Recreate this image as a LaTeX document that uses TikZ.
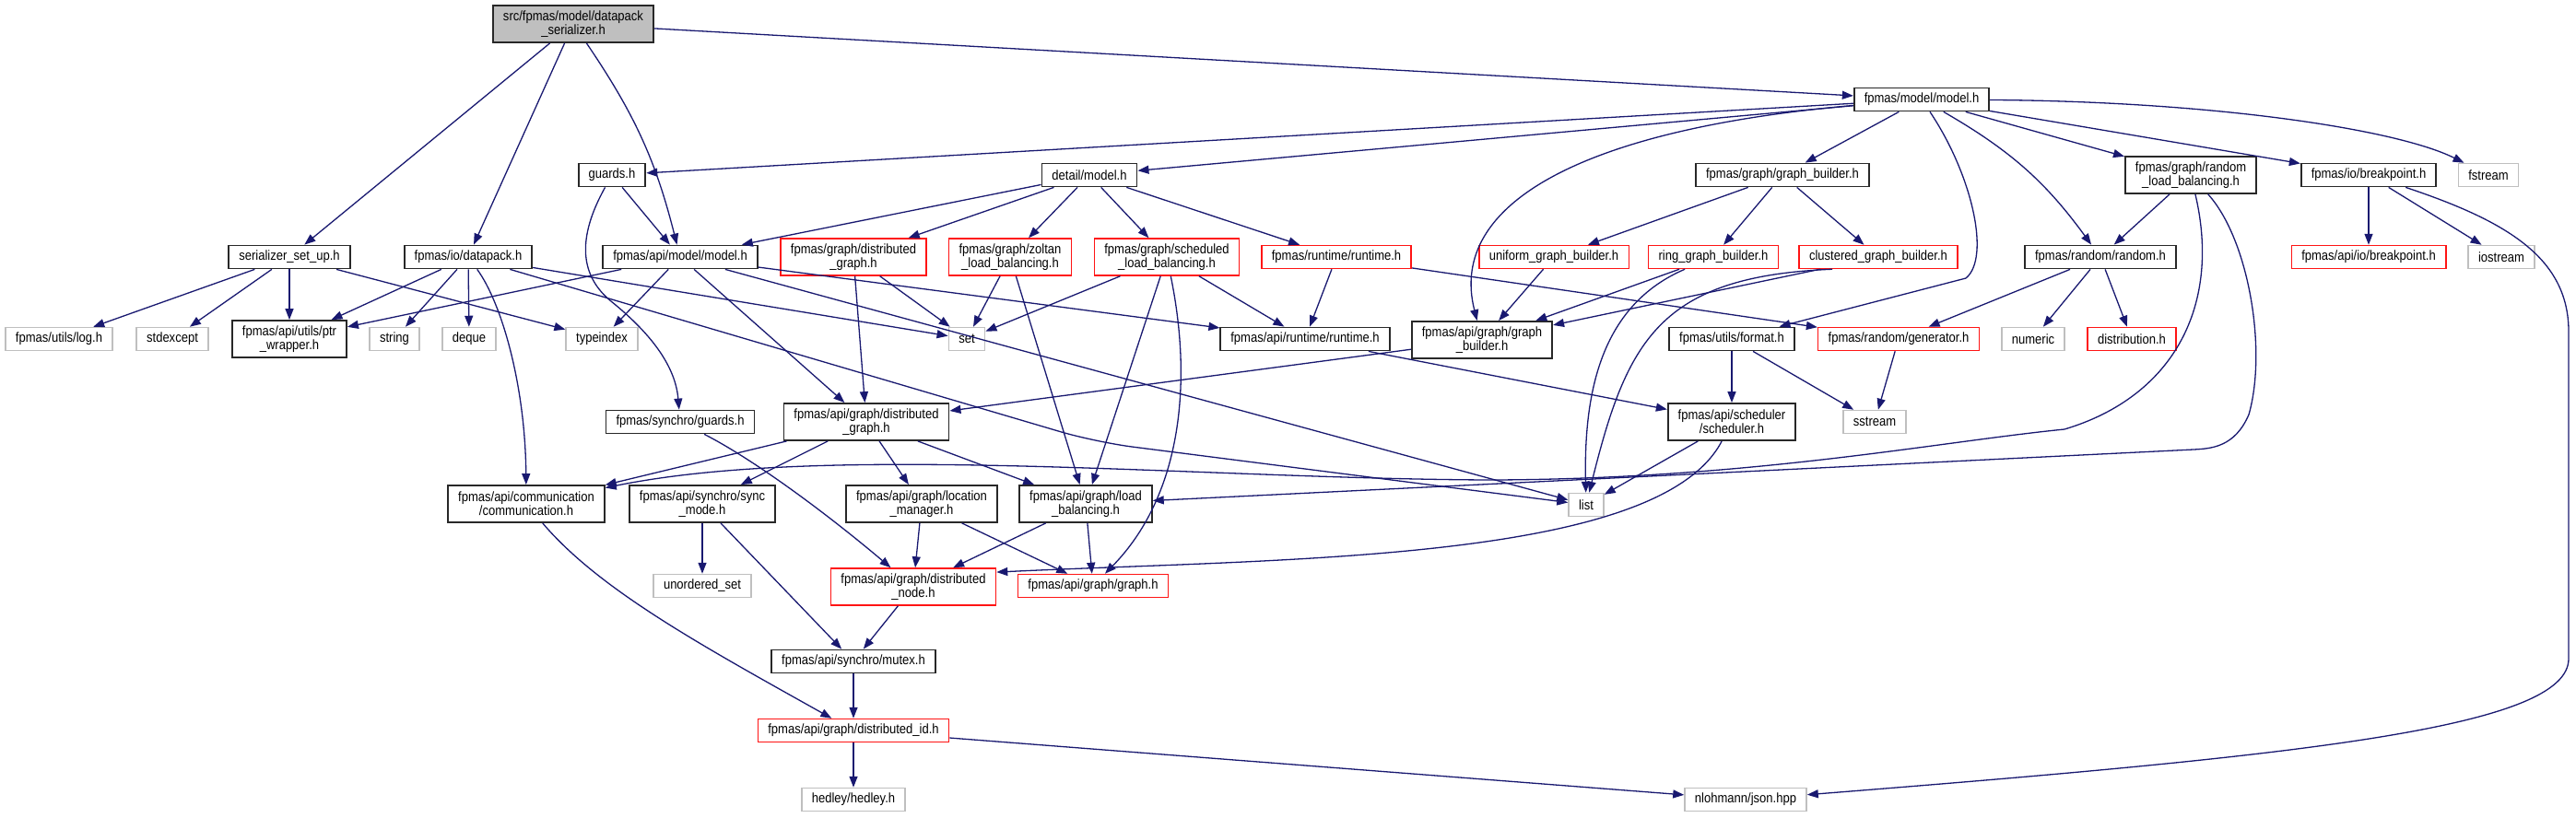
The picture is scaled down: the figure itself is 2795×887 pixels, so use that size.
\documentclass[tikz,border=0pt]{standalone}
\usepackage{fontspec}
\setmainfont{Liberation Sans}[FakeStretch=0.88]
\usepackage{tikz}
\usetikzlibrary{arrows.meta}
\definecolor{edgeblue}{RGB}{25,25,112}
\definecolor{sysgray}{RGB}{191,191,191}
\definecolor{truncred}{RGB}{255,20,20}
\definecolor{docline}{RGB}{40,40,40}

\begin{document}
\begin{tikzpicture}[x=1pt, y=-1pt,
  hdr/.style={rectangle, font=\fontsize{14.8}{15}\selectfont, align=center,
    inner xsep=11pt, inner ysep=2pt, minimum height=25pt, text=black},
  doc/.style={hdr, draw=docline, line width=1.8pt},
  trunc/.style={hdr, draw=truncred, line width=1.5pt},
  sys/.style={hdr, draw=sysgray, line width=1.5pt},
  rootnode/.style={doc, fill=sysgray},
  twoline/.style={minimum height=40pt},
  dep/.style={-{Triangle[length=12pt,width=9pt]}, line width=1.3pt, edgeblue},
]
  \useasboundingbox (0,0) rectangle (2795,887);

  \node[rootnode, twoline] (root) at (622,26) {src/fpmas/model/datapack\\\_serializer.h};
  \node[doc] (fmodel) at (2085,108) {fpmas/model/model.h};

  \node[doc] (guards) at (664,190) {guards.h};
  \node[doc] (detail) at (1182,190) {detail/model.h};
  \node[doc] (gbld) at (1934,190) {fpmas/graph/graph\_builder.h};
  \node[doc, twoline] (rlb) at (2377,190) {fpmas/graph/random\\\_load\_balancing.h};
  \node[doc] (bkp) at (2570,190) {fpmas/io/breakpoint.h};
  \node[sys] (fstream) at (2700,190) {fstream};

  \node[doc] (ser) at (314,279) {serializer\_set\_up.h};
  \node[doc] (dpk) at (508,279) {fpmas/io/datapack.h};
  \node[doc] (amodel) at (738,279) {fpmas/api/model/model.h};
  \node[trunc, twoline] (fdgraph) at (926,279) {fpmas/graph/distributed\\\_graph.h};
  \node[trunc, twoline] (zoltan) at (1096,279) {fpmas/graph/zoltan\\\_load\_balancing.h};
  \node[trunc, twoline] (sched) at (1266,279) {fpmas/graph/scheduled\\\_load\_balancing.h};
  \node[trunc] (frt) at (1450,279) {fpmas/runtime/runtime.h};
  \node[trunc] (uniform) at (1686,279) {uniform\_graph\_builder.h};
  \node[trunc] (ring) at (1859,279) {ring\_graph\_builder.h};
  \node[trunc] (clus) at (2038,279) {clustered\_graph\_builder.h};
  \node[doc] (random) at (2279,279) {fpmas/random/random.h};
  \node[trunc] (abkp) at (2570,279) {fpmas/api/io/breakpoint.h};
  \node[sys] (iostream) at (2714,279) {iostream};

  \node[sys] (log) at (64,368) {fpmas/utils/log.h};
  \node[sys] (stdexc) at (187,368) {stdexcept};
  \node[doc, twoline] (ptr) at (314,368) {fpmas/api/utils/ptr\\\_wrapper.h};
  \node[sys] (string) at (428,368) {string};
  \node[sys] (deque) at (509,368) {deque};
  \node[sys] (typeidx) at (653,368) {typeindex};
  \node[sys] (set) at (1049,368) {set};
  \node[doc] (art) at (1416,368) {fpmas/api/runtime/runtime.h};
  \node[doc, twoline] (agbld) at (1608,369) {fpmas/api/graph/graph\\\_builder.h};
  \node[doc] (format) at (1879,368) {fpmas/utils/format.h};
  \node[trunc] (gen) at (2060,368) {fpmas/random/generator.h};
  \node[sys] (numeric) at (2206,368) {numeric};
  \node[trunc] (distr) at (2313,368) {distribution.h};

  \node[doc] (sguards) at (738,458) {fpmas/synchro/guards.h};
  \node[doc, twoline] (adgraph) at (940,458) {fpmas/api/graph/distributed\\\_graph.h};
  \node[doc, twoline] (schd) at (1879,458) {fpmas/api/scheduler\\/scheduler.h};
  \node[sys] (sstream) at (2034,458) {sstream};

  \node[doc, twoline] (comm) at (571,547) {fpmas/api/communication\\/communication.h};
  \node[doc, twoline] (sync) at (762,547) {fpmas/api/synchro/sync\\\_mode.h};
  \node[doc, twoline] (locm) at (1000,547) {fpmas/api/graph/location\\\_manager.h};
  \node[doc, twoline] (lb) at (1178,547) {fpmas/api/graph/load\\\_balancing.h};
  \node[sys] (list) at (1721,548) {list};

  \node[sys] (unord) at (762,636) {unordered\_set};
  \node[trunc, twoline] (dnode) at (991,637) {fpmas/api/graph/distributed\\\_node.h};
  \node[trunc] (graph) at (1186,636) {fpmas/api/graph/graph.h};
  \node[doc] (mutex) at (926,718) {fpmas/api/synchro/mutex.h};
  \node[trunc] (did) at (926,793) {fpmas/api/graph/distributed\_id.h};
  \node[sys] (hedley) at (926,868) {hedley/hedley.h};
  \node[sys] (json) at (1894,868) {nlohmann/json.hpp};

  % top of the graph
  \draw[dep] (root) -- (ser);
  \draw[dep] (root) -- (dpk);
  \draw[dep] (root) to[bend left=10] (amodel);
  \draw[dep] (root) -- (fmodel);

  \draw[dep] (fmodel) -- (guards);
  \draw[dep] (fmodel) -- (detail);
  \draw[dep] (fmodel) .. controls (1720,140) and (1570,220) .. (agbld);
  \draw[dep] (fmodel) -- (gbld);
  \draw[dep] (fmodel) .. controls (2140,190) and (2160,280) .. (2133,302) -- (format);
  \draw[dep] (fmodel) to[bend left=12] (random);
  \draw[dep] (fmodel) -- (rlb);
  \draw[dep] (fmodel) -- (bkp);
  \draw[dep] (fmodel) .. controls (2400,110) and (2600,140) .. (fstream);

  \draw[dep] (guards) -- (amodel);
  \draw[dep] (guards) .. controls (625,260) and (630,300) .. (663,327)
    .. controls (710,365) and (733,400) .. (sguards);

  \draw[dep] (detail) -- (amodel);
  \draw[dep] (detail) -- (fdgraph);
  \draw[dep] (detail) -- (zoltan);
  \draw[dep] (detail) -- (sched);
  \draw[dep] (detail) -- (frt);

  \draw[dep] (ser) -- (log);
  \draw[dep] (ser) -- (stdexc);
  \draw[dep] (ser) -- (ptr);
  \draw[dep] (ser) -- (typeidx);

  \draw[dep] (dpk) -- (ptr);
  \draw[dep] (dpk) -- (string);
  \draw[dep] (dpk) -- (deque);
  \draw[dep] (dpk) -- (set);
  \draw[dep] (dpk) .. controls (545,330) and (570,420) .. (comm);
  \draw[dep, rounded corners=40pt] (dpk) -- (1189,480) -- (list);

  \draw[dep] (amodel) -- (ptr);
  \draw[dep] (amodel) -- (typeidx);
  \draw[dep] (amodel) -- (adgraph);
  \draw[dep] (amodel) -- (list);
  \draw[dep] (amodel) -- (art);

  % middle rows
  \draw[dep] (fdgraph) -- (set);
  \draw[dep] (fdgraph) -- (adgraph);
  \draw[dep] (zoltan) -- (set);
  \draw[dep] (zoltan) -- (lb);
  \draw[dep] (sched) -- (set);
  \draw[dep] (sched) -- (lb);
  \draw[dep] (sched) -- (art);
  \draw[dep] (sched) .. controls (1295,420) and (1280,540) .. (graph);
  \draw[dep] (frt) -- (art);
  \draw[dep] (frt) -- (gen);

  \draw[dep] (gbld) -- (uniform);
  \draw[dep] (gbld) -- (ring);
  \draw[dep] (gbld) -- (clus);
  \draw[dep] (uniform) -- (agbld);
  \draw[dep] (ring) -- (agbld);
  \draw[dep] (ring) .. controls (1740,330) and (1718,420) .. (list);
  \draw[dep] (clus) -- (agbld);
  \draw[dep] ([xshift=-50pt]clus.south) .. controls (1800,300) and (1765,370) .. (list);

  \draw[dep] (rlb) -- (random);
  \draw[dep] (rlb) .. controls (2410,330) and (2360,430) .. (2240,466)
    .. controls (2100,480) and (1900,520) .. (1619,521)
    .. controls (1300,520) and (900,480) .. (comm);
  \draw[dep] (rlb) .. controls (2440,260) and (2460,380) .. (2440,450)
    .. controls (2425,485) and (2400,487) .. (2380,488) -- (lb);

  \draw[dep] (bkp) -- (abkp);
  \draw[dep] (bkp) -- (iostream);
  \draw[dep] (bkp) .. controls (2720,240) and (2787,280) .. (2787,360) -- (2787,715)
    .. controls (2787,790) and (2500,820) .. (json);

  \draw[dep] (random) -- (gen);
  \draw[dep] (random) -- (numeric);
  \draw[dep] (random) -- (distr);

  \draw[dep] (agbld) -- (adgraph);
  \draw[dep] (art) -- (schd);
  \draw[dep] (format) -- (schd);
  \draw[dep] (format) -- (sstream);
  \draw[dep] (gen) -- (sstream);
  \draw[dep] (schd) -- (list);
  \draw[dep] (schd) .. controls (1800,610) and (1400,606) .. (dnode.10);

  % bottom of the graph
  \draw[dep] (sguards) .. controls (820,500) and (900,560) .. (dnode);
  \draw[dep] (adgraph) -- (comm);
  \draw[dep] (adgraph) -- (sync);
  \draw[dep] (adgraph) -- (locm);
  \draw[dep] (adgraph) -- (lb);
  \draw[dep] (comm) .. controls (650,640) and (760,700) .. (did);
  \draw[dep] (sync) -- (unord);
  \draw[dep] (sync) -- (mutex);
  \draw[dep] (locm) -- (dnode);
  \draw[dep] (locm) -- (graph);
  \draw[dep] (lb) -- (dnode);
  \draw[dep] (lb) -- (graph);
  \draw[dep] (dnode) -- (mutex);
  \draw[dep] (mutex) -- (did);
  \draw[dep] (did) -- (hedley);
  \draw[dep] (did) -- (json);
\end{tikzpicture}
\end{document}
